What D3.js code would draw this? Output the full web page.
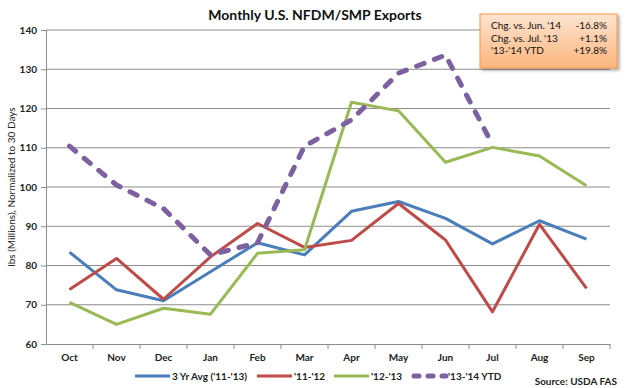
<!DOCTYPE html>
<html>
<head>
<meta charset="utf-8">
<script src="https://cdn.jsdelivr.net/npm/d3@7"></script>
<style>
  body { margin: 0; background: #fff; }
  text { font-family: Lato, "Open Sans", sans-serif; }
</style>
</head>
<body>
<div id="chart"></div>
<script>
// data
var months = ["Oct", "Nov", "Dec", "Jan", "Feb", "Mar", "Apr", "May", "Jun", "Jul", "Aug", "Sep"];
var avg3yr = [83.4, 73.8, 71.0, 78.4, 85.8, 82.7, 93.8, 96.3, 92.0, 85.5, 91.4, 86.7];
var y1112 = [73.9, 81.8, 71.4, 82.2, 90.7, 84.6, 86.4, 95.8, 86.5, 68.2, 90.5, 74.2];
var y1213 = [70.6, 65.0, 69.1, 67.6, 83.1, 84.0, 121.6, 119.4, 106.3, 110.1, 107.9, 100.3];
var y1314 = [110.4, 100.5, 94.5, 82.7, 85.8, 110.4, 117.1, 129.0, 133.6, 110.8];
var yTicks = [60, 70, 80, 90, 100, 110, 120, 130, 140];
var boxRows = [["Chg. vs. Jun. '14", "-16.8%"], ["Chg. vs. Jul. '13", "+1.1%"], ["'13-'14 YTD", "+19.8%"]];

(function () {

  var series = [
    {name: "3 Yr Avg ('11-'13)", values: avg3yr, color: "#4a7ebb", dash: null},
    {name: "'11-'12", values: y1112, color: "#be4b48", dash: null},
    {name: "'12-'13", values: y1213, color: "#98b954", dash: null},
    {name: "'13-'14 YTD", values: y1314, color: "#7d60a0", dash: "8,11"}
  ];

  var W = 628, H = 388;
  // plot area edges
  var pl = 46, pr = 610, pt = 30, pb = 344;

  var svg = d3.select("#chart").append("svg")
    .attr("width", W).attr("height", H);

  var x = d3.scaleBand().domain(months).range([pl, pr]);
  var y = d3.scaleLinear().domain([60, 140]).range([pb, pt]);

  // gridlines
  svg.append("g").selectAll("line")
    .data(yTicks.slice(1))
    .enter().append("line")
    .attr("x1", pl).attr("x2", pr)
    .attr("y1", function(d) { return y(d); })
    .attr("y2", function(d) { return y(d); })
    .style("stroke", "#8c8c8c").style("stroke-width", 1);

  // y axis
  var gy = svg.append("g")
    .attr("transform", "translate(" + pl + ",0)")
    .call(d3.axisLeft(y).tickValues(yTicks).tickSize(5).tickPadding(4));
  gy.select(".domain").style("stroke", "#8c8c8c");
  gy.selectAll(".tick line").style("stroke", "#8c8c8c");
  gy.selectAll("text").style("font-size", "10px").style("font-weight", "bold").style("fill", "#222")
    .style("font-family", "Lato, sans-serif");

  // x axis
  var gx = svg.append("g")
    .attr("transform", "translate(0," + pb + ")")
    .call(d3.axisBottom(x).tickSize(0).tickPadding(10));
  gx.select(".domain").style("stroke", "#8c8c8c");
  gx.selectAll("text").style("font-size", "10px").style("font-weight", "bold").style("fill", "#222")
    .style("font-family", "Lato, sans-serif");
  // tick marks at band edges
  svg.append("g").selectAll("line")
    .data(months)
    .enter().append("line")
    .attr("x1", function(d) { return x(d) + x.bandwidth(); })
    .attr("x2", function(d) { return x(d) + x.bandwidth(); })
    .attr("y1", pb).attr("y2", pb + 5)
    .style("stroke", "#8c8c8c");

  // lines
  var line = d3.line()
    .x(function(d, i) { return x(months[i]) + x.bandwidth() / 2; })
    .y(function(d) { return y(d); });

  series.forEach(function(s) {
    svg.append("path")
      .datum(s.values)
      .attr("d", line)
      .style("fill", "none")
      .style("stroke", s.color)
      .style("stroke-width", s.dash ? 5 : 3)
      .style("stroke-dasharray", s.dash)
      .style("stroke-linecap", s.dash ? "round" : "butt")
      .style("stroke-linejoin", "round");
  });

  // title
  svg.append("text")
    .attr("x", 315).attr("y", 20)
    .attr("text-anchor", "middle")
    .style("font-size", "14px").style("font-weight", "bold").style("fill", "#111")
    .text("Monthly U.S. NFDM/SMP Exports");

  // y axis description
  svg.append("text")
    .attr("transform", "translate(15," + ((pt + pb) / 2) + ") rotate(-90)")
    .attr("text-anchor", "middle")
    .style("font-size", "10px").style("fill", "#222")
    .text("lbs (Millions), Normalized to 30 Days");

  // legend
  var legendX = [135, 257, 334, 411];
  series.forEach(function(s, i) {
    var g = svg.append("g").attr("transform", "translate(" + legendX[i] + ",376)");
    g.append("line")
      .attr("x1", s.dash ? 3 : 0).attr("x2", 35).attr("y1", 0).attr("y2", 0)
      .style("stroke", s.color)
      .style("stroke-width", s.dash ? 5 : 3)
      .style("stroke-dasharray", s.dash ? "5,9" : null)
      .style("stroke-linecap", s.dash ? "round" : "butt");
    g.append("text")
      .attr("x", 37).attr("y", 4)
      .style("font-size", "10px").style("font-weight", "bold").style("fill", "#222")
      .text(s.name);
  });

  // source
  svg.append("text")
    .attr("x", 617).attr("y", 385)
    .attr("text-anchor", "end")
    .style("font-size", "10px").style("font-weight", "bold").style("fill", "#222")
    .text("Source: USDA FAS");

  // info box
  var defs = svg.append("defs");
  var grad = defs.append("linearGradient").attr("id", "boxGrad")
    .attr("x1", 0).attr("y1", 0).attr("x2", 0).attr("y2", 1);
  grad.append("stop").attr("offset", "0%").attr("stop-color", "#fde4d0");
  grad.append("stop").attr("offset", "100%").attr("stop-color", "#fab67e");
  var shadow = defs.append("filter").attr("id", "shadow")
    .attr("x", "-10%").attr("y", "-10%").attr("width", "130%").attr("height", "140%");
  shadow.append("feDropShadow").attr("dx", 2).attr("dy", 2).attr("stdDeviation", 1.5)
    .attr("flood-color", "#000").attr("flood-opacity", 0.35);

  svg.append("rect")
    .attr("x", 480).attr("y", 14).attr("width", 137).attr("height", 54)
    .style("fill", "url(#boxGrad)")
    .style("stroke", "#f79646").style("stroke-width", 1)
    .attr("filter", "url(#shadow)");

  boxRows.forEach(function(r, i) {
    svg.append("text")
      .attr("x", 491).attr("y", 29 + i * 12.5)
      .style("font-size", "10px").style("fill", "#111")
      .text(r[0]);
    svg.append("text")
      .attr("x", 607).attr("y", 29 + i * 12.5)
      .attr("text-anchor", "end")
      .style("font-size", "10px").style("fill", "#111")
      .text(r[1]);
  });

})();
</script>
</body>
</html>
